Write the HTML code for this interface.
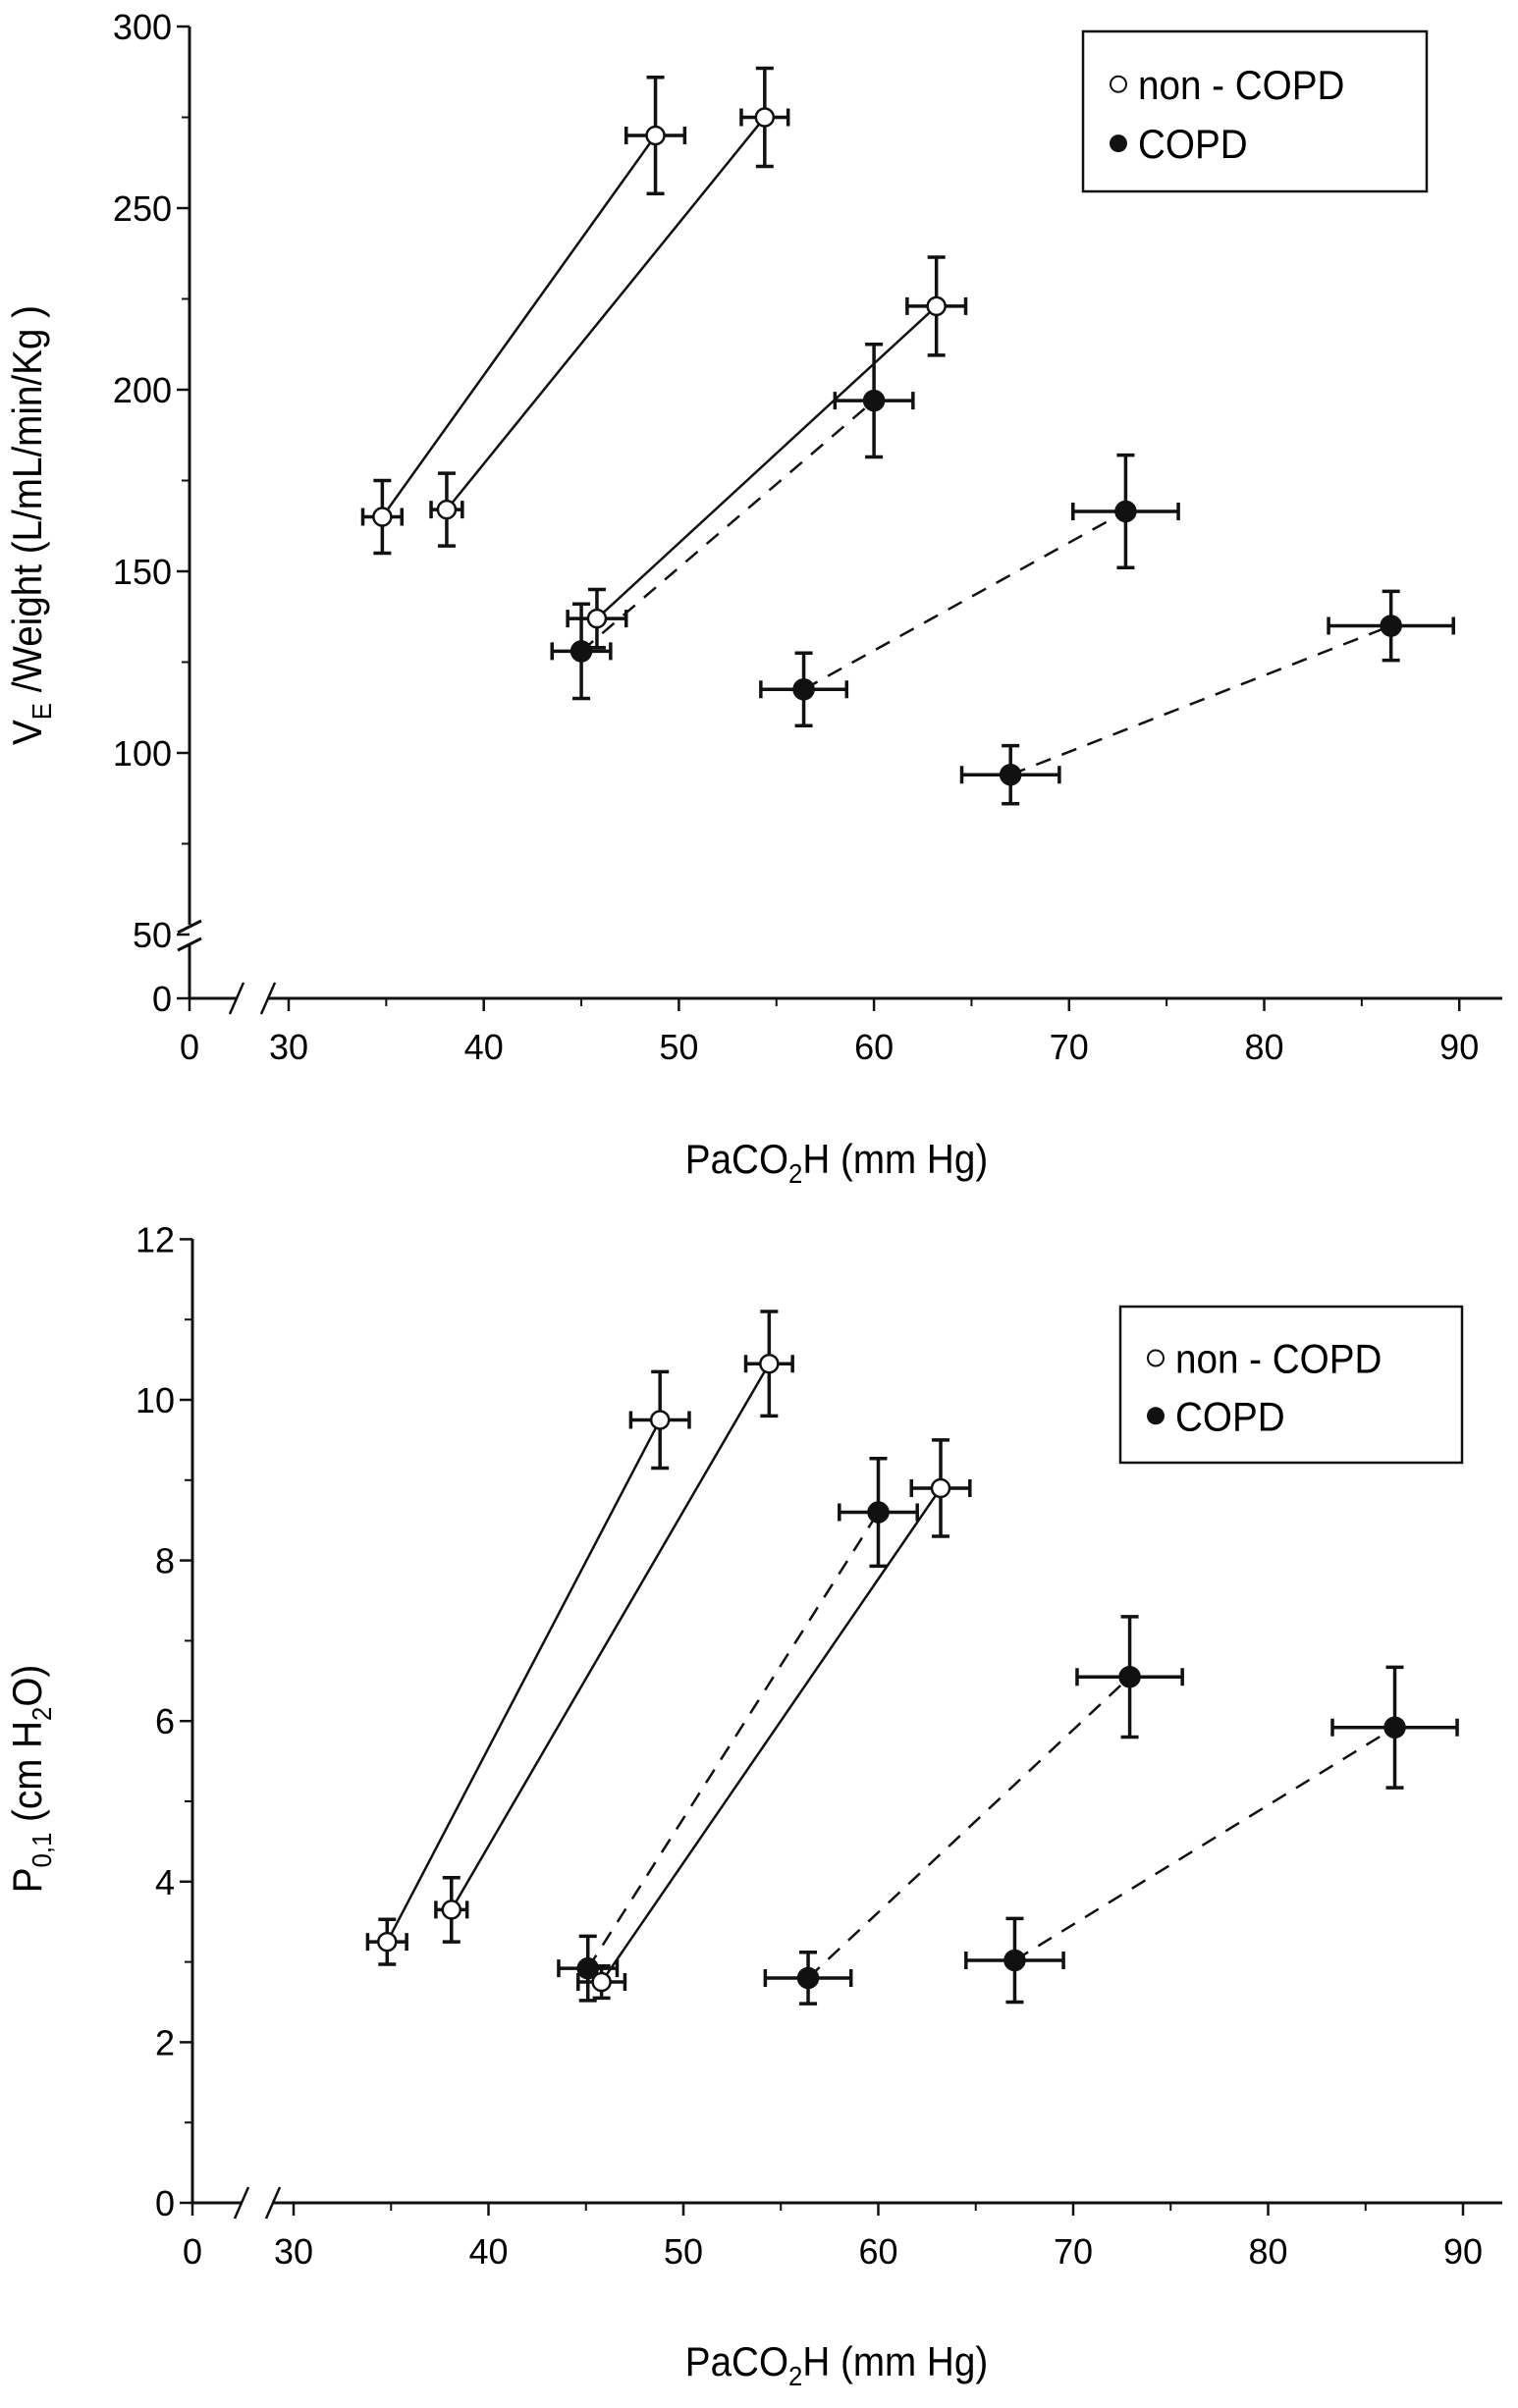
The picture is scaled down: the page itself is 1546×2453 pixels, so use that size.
<!DOCTYPE html>
<html><head><meta charset="utf-8"><style>
html,body{margin:0;padding:0;background:#fff;}
svg{display:block;font-family:"Liberation Sans",sans-serif;}
</style></head><body>
<svg id="fig" width="1546" height="2453" viewBox="0 0 1546 2453"></svg>
<script>
const xTicks=[30,40,50,60,70,80,90];
const topYTicks=[50,100,150,200,250,300];
const botYTicks=[0,2,4,6,8,10,12];
// pairs: [x1,y1,x2,y2]
const topNonCopd=[[34.8,165,48.8,270],[38.1,167,54.4,275],[45.8,137,63.2,223]];
const topNonCopdXErr=[[1,1.5],[0.8,1.2],[1.5,1.5]];
const topNonCopdYErr=[[10,16],[10,13.5],[8,13.5]];
const topCopd=[[45,128,60,197],[56.4,117.5,72.9,166.5],[67,94,86.5,135]];
const topCopdXErr=[[1.5,2],[2.2,2.7],[2.5,3.2]];
const topCopdYErr=[[13,15.5],[10,15.5],[8,9.5]];
const botNonCopd=[[34.8,3.25,48.8,9.75],[38.1,3.65,54.4,10.45],[45.8,2.75,63.2,8.9]];
const botNonCopdXErr=[[1,1.5],[0.8,1.2],[1.2,1.5]];
const botNonCopdYErr=[[0.28,0.6],[0.4,0.65],[0.2,0.6]];
const botCopd=[[45.1,2.92,60,8.6],[56.4,2.8,72.9,6.55],[67,3.02,86.5,5.92]];
const botCopdXErr=[[1.5,2],[2.2,2.7],[2.5,3.2]];
const botCopdYErr=[[0.4,0.67],[0.32,0.75],[0.52,0.75]];

const NS="http://www.w3.org/2000/svg";
const svg=document.getElementById('fig');
function mk(tag,attrs,parent,txt){const e=document.createElementNS(NS,tag);for(const k in attrs)e.setAttribute(k,attrs[k]);if(txt!==undefined)e.textContent=txt;(parent||svg).appendChild(e);return e;}

function drawPanel(cfg){
  const g=mk('g',{});
  
  
  const X=v=>cfg.x30+(v-30)*cfg.xs;
  const Y=cfg.Y;
  const ax=cfg.axisX, by=cfg.baseY;
  const ya=mk('path',{d:cfg.yAxisPath,stroke:'#111','stroke-width':3,fill:'none'},g);
  
  
  const xa=mk('path',{d:`M${ax} ${by} H${cfg.brkX1} M${cfg.brkX2} ${by} H1530`,stroke:'#111','stroke-width':3,fill:'none'},g);
  
  
  mk('path',{d:`M${cfg.brkX1-8} ${by+16} L${cfg.brkX1+6} ${by-16} M${cfg.brkX2-6} ${by+16} L${cfg.brkX2+8} ${by-16}`,stroke:'#111','stroke-width':2.5,fill:'none'},g);
  mk('line',{x1:ax,y1:by,x2:ax,y2:by+13,stroke:'#111','stroke-width':2.5},g);
  const t0=mk('text',{x:ax,y:by+62,'font-size':36,'text-anchor':'middle'},g,'0');
  
  
  xTicks.forEach(v=>{
    mk('line',{x1:X(v),y1:by,x2:X(v),y2:by+13,stroke:'#111','stroke-width':2.5},g);
    if(v<90) mk('line',{x1:X(v+5),y1:by,x2:X(v+5),y2:by+8,stroke:'#111','stroke-width':2},g);
    const t=mk('text',{x:X(v),y:by+62,'font-size':36,'text-anchor':'middle'},g,String(v));
    
    
  });
  cfg.yTicks.forEach((v,i)=>{
    mk('line',{x1:ax-13,y1:Y(v),x2:ax,y2:Y(v),stroke:'#111','stroke-width':2.5},g);
    if(i<cfg.yTicks.length-1) mk('line',{x1:ax-8,y1:Y(v+cfg.minor),x2:ax,y2:Y(v+cfg.minor),stroke:'#111','stroke-width':2},g);
    const t=mk('text',{x:ax-18,y:Y(v)+13,'font-size':36,'text-anchor':'end'},g,String(v));
    
    
  });
  if(cfg.zeroLabel){
    mk('line',{x1:ax-13,y1:by,x2:ax,y2:by,stroke:'#111','stroke-width':2.5},g);
    const t=mk('text',{x:ax-18,y:by+13,'font-size':36,'text-anchor':'end'},g,'0');
    
    
  }
  function series(pairs,xe,ye,dashed,filled,nm){
    pairs.forEach((p,i)=>{
      const ln=mk('line',{x1:X(p[0]),y1:Y(p[1]),x2:X(p[2]),y2:Y(p[3]),stroke:'#111','stroke-width':2.5,'stroke-dasharray':dashed?'16 12':'none'},g);
      
      
      [[p[0],p[1],xe[i][0],ye[i][0]],[p[2],p[3],xe[i][1],ye[i][1]]].forEach(q=>{
        const cx=X(q[0]),cy=Y(q[1]);
        const x1=X(q[0]-q[2]),x2=X(q[0]+q[2]),y1=Y(q[1]-q[3]),y2=Y(q[1]+q[3]);
        mk('path',{d:`M${x1} ${cy}H${x2}M${x1} ${cy-9}V${cy+9}M${x2} ${cy-9}V${cy+9}M${cx} ${y1}V${y2}M${cx-9} ${y1}H${cx+9}M${cx-9} ${y2}H${cx+9}`,stroke:'#111','stroke-width':3.5,fill:'none'},g);
        const c=mk('circle',{cx:cx,cy:cy,r:filled?10:9,fill:filled?'#111':'#fff',stroke:'#111','stroke-width':2.5},g);
        
        
      });
    });
  }
  series(cfg.copd,cfg.copdXE,cfg.copdYE,true,true,'copd');
  series(cfg.non,cfg.nonXE,cfg.nonYE,false,false,'non-copd');
  const L=cfg.legend;
  const lg=mk('g',{},g);
  
  
  mk('rect',{x:L[0],y:L[1],width:L[2],height:L[3],fill:'#fff',stroke:'#111','stroke-width':2.5},lg);
  mk('circle',{cx:L[0]+36,cy:L[1]+L[3]*0.33,r:8,fill:'#fff',stroke:'#111','stroke-width':2},lg);
  const e1=mk('text',{x:0,y:0,'font-size':42,transform:`translate(${L[0]+56},${L[1]+L[3]*0.33+15}) scale(0.92,1)`},lg,'non - COPD');
  
  
  mk('circle',{cx:L[0]+36,cy:L[1]+L[3]*0.7,r:9,fill:'#111'},lg);
  const e2=mk('text',{x:0,y:0,'font-size':42,transform:`translate(${L[0]+56},${L[1]+L[3]*0.7+15}) scale(0.92,1)`},lg,'COPD');
  
  
  const xt=mk('text',{x:0,y:0,'font-size':42,'text-anchor':'middle',transform:`translate(852,${cfg.xTitleY}) scale(0.92,1)`},g);
  
  
  xt.innerHTML='PaCO<tspan font-size="28" dy="10">2</tspan><tspan dy="-10">H (mm Hg)</tspan>';
  const yt=mk('text',{x:0,y:0,'font-size':42,'text-anchor':'middle',transform:`translate(${cfg.yTitleX},${cfg.yTitleY}) rotate(-90) scale(0.92,1)`},g);
  
  
  yt.innerHTML=cfg.yTitle;
}

drawPanel({name:'ventilation-panel',x30:294,xs:19.87,Y:v=>397-(v-200)*3.70,axisX:193,baseY:1017,
  brkX1:242,brkX2:272,yTicks:topYTicks,minor:25,zeroLabel:true,
  yAxisPath:'M193 27 V942 M193 962 V1017 M181 950 L205 938 M181 968 L205 956',
  non:topNonCopd,nonXE:topNonCopdXErr,nonYE:topNonCopdYErr,copd:topCopd,copdXE:topCopdXErr,copdYE:topCopdYErr,
  legend:[1103,32,350,163],xTitleY:1195,yTitleX:42,yTitleY:535,
  yTitle:'V<tspan font-size="28" dy="10">E</tspan><tspan dy="-10"> /Weight (L/mL/min/Kg )</tspan>'});
drawPanel({name:'p01-panel',x30:299,xs:19.85,Y:v=>2244-v*81.8,axisX:196,baseY:2244,
  brkX1:247,brkX2:277,yTicks:botYTicks,minor:1,zeroLabel:false,
  yAxisPath:'M196 1262 V2244',
  non:botNonCopd,nonXE:botNonCopdXErr,nonYE:botNonCopdYErr,copd:botCopd,copdXE:botCopdXErr,copdYE:botCopdYErr,
  legend:[1141,1331,348,159],xTitleY:2420,yTitleX:42,yTitleY:1812,
  yTitle:'P<tspan font-size="28" dy="10">0,1</tspan><tspan dy="-10">  (cm H</tspan><tspan font-size="28" dy="10">2</tspan><tspan dy="-10">O)</tspan>'});
</script>
</body></html>
